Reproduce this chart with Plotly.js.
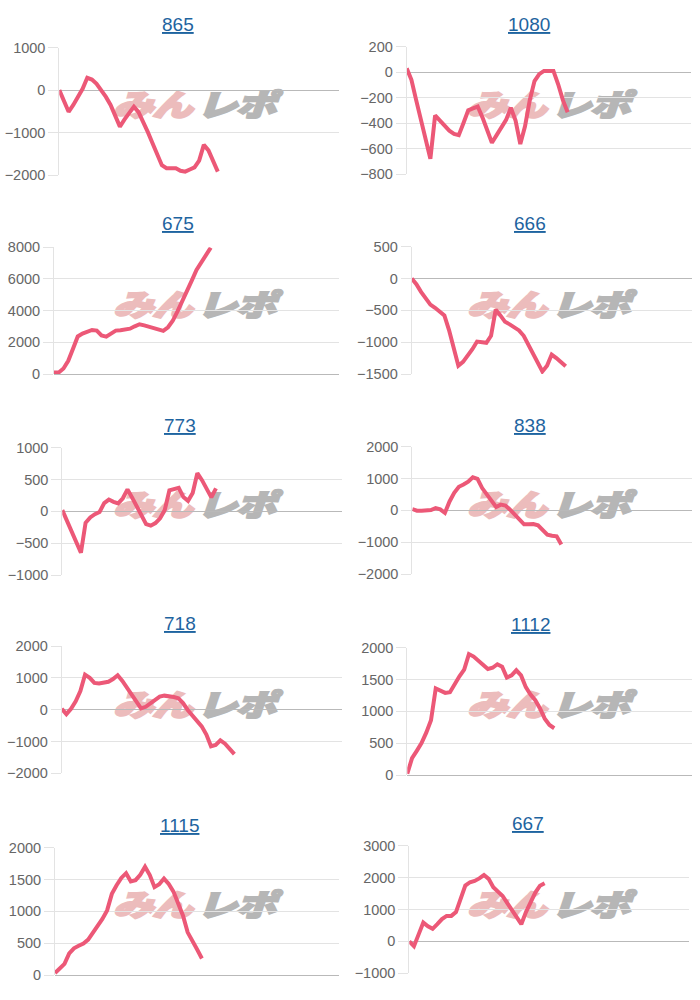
<!DOCTYPE html>
<html>
<head>
<meta charset="utf-8">
<script src="https://cdn.plot.ly/plotly-3.0.1.min.js"></script>
<style>
  html, body { margin: 0; padding: 0; background: #ffffff; }
  #wrap { position: relative; width: 700px; height: 1000px; }
  #chart { position: absolute; left: 0; top: 0; width: 700px; height: 1000px; z-index: 2; }
  .wm { position: absolute; z-index: 1; white-space: nowrap; line-height: 1;
        font-family: "Noto Sans CJK JP", sans-serif; font-weight: 900; font-style: italic;
        font-size: 30px; transform: scaleX(1.35); transform-origin: 0 0; letter-spacing: -1px; }
  .wm .a { color: #ecbcbc; -webkit-text-stroke: 2px #ecbcbc; }
  .wm .b { color: #b6b6b6; -webkit-text-stroke: 2px #b6b6b6; margin-left: 4px; }
</style>
</head>
<body>
<div id="wrap"><div id="chart"></div></div>
<script>
// ---- data ----
const titles = ["865", "1080", "675", "666", "773", "838", "718", "1112", "1115", "667"];

const s865 = [0, -240, -510, -350, -160, 30, 290, 250, 150, 10, -160, -350, -600, -860, -690, -520, -390, -520, -730, -990, -1250, -1510, -1770, -1840, -1840, -1840, -1900, -1920, -1870, -1820, -1660, -1290, -1420, -1660, -1920];
const s1080 = [30, -60, -220, -380, -530, -680, -340, -380, -415, -460, -485, -495, -400, -300, -285, -270, -355, -460, -555, -495, -435, -375, -280, -380, -565, -425, -220, -70, -15, 10, 10, 10, -95, -220, -315];
const s675 = [100, 100, 350, 830, 1600, 2370, 2550, 2660, 2780, 2740, 2430, 2360, 2560, 2740, 2760, 2780, 2860, 3010, 3140, 3070, 2970, 2870, 2780, 2720, 2950, 3360, 3960, 4560, 5220, 5900, 6570, 7070, 7580, 7980];
const s666 = [0, -90, -210, -310, -410, -460, -520, -580, -810, -1070, -1370, -1310, -1220, -1110, -990, -1000, -1010, -900, -490, -580, -680, -720, -770, -815, -900, -1040, -1180, -1300, -1460, -1370, -1195, -1250, -1310, -1380];
const s773 = [20, -140, -310, -480, -650, -180, -95, -45, -10, 130, 185, 150, 125, 205, 345, 215, 65, -50, -200, -225, -185, -110, 20, 330, 350, 370, 225, 165, 290, 600, 490, 360, 220, 360];
const s838 = [40, -10, -10, -10, 10, 70, 30, -80, 280, 550, 740, 810, 900, 1040, 990, 700, 490, 330, 105, 180, 150, 20, -125, -310, -440, -440, -430, -470, -630, -765, -800, -815, -1075];
const s718 = [30, -140, 30, 265, 585, 1100, 1000, 840, 820, 835, 875, 960, 1080, 905, 700, 495, 290, 40, 90, 195, 305, 410, 440, 430, 395, 360, 205, -10, -190, -360, -525, -785, -1150, -1110, -965, -1070, -1230, -1400];
const s1112 = [20, 265, 380, 500, 665, 860, 1360, 1330, 1290, 1300, 1435, 1550, 1655, 1900, 1860, 1790, 1715, 1665, 1685, 1740, 1700, 1530, 1565, 1645, 1565, 1380, 1265, 1175, 1045, 885, 785, 735];
const s1115 = [30, 110, 175, 340, 420, 460, 495, 555, 655, 755, 880, 1015, 1275, 1410, 1525, 1600, 1470, 1490, 1575, 1700, 1570, 1380, 1425, 1515, 1430, 1310, 1130, 935, 670, 520, 400, 260];
const s667 = [0, -150, 220, 590, 475, 395, 540, 700, 800, 800, 920, 1310, 1750, 1855, 1895, 1975, 2080, 1960, 1700, 1560, 1425, 1200, 965, 725, 540, 920, 1240, 1530, 1745, 1820];

const series = [s865, s1080, s675, s666, s773, s838, s718, s1112, s1115, s667];
const yRanges = [[-2000, 1000], [-800, 200], [0, 8000], [-1500, 500], [-1000, 1000], [-2000, 2000], [-2000, 2000], [0, 2000], [0, 2000], [-1000, 3000]];
const yTickSteps = [1000, 200, 2000, 500, 500, 1000, 1000, 500, 500, 1000];

// ---- layout geometry (pixels in the 700x1000 page) ----
const SLOTS = 60;
const W = 700, H = 1000;
const boxes = [
  [59.3, 339, 47.7, 175],
  [406.7, 690.7, 46.7, 174],
  [54, 339, 247.3, 374],
  [411.7, 691.7, 246.7, 374],
  [62.3, 341.7, 447.7, 575],
  [412.3, 691.7, 446.7, 574],
  [61.7, 341.7, 646, 773.3],
  [407.3, 691.7, 647.7, 775],
  [55, 339.3, 847.7, 975],
  [409.3, 689.3, 845.7, 973.3]
];
const titlePos = [[178, 24], [529, 24], [178, 224], [530, 224], [180, 425], [530, 425], [180, 623], [530, 624], [179, 825], [528, 823]];

const LINE = '#ec5877';
const traces = [];
const layout = {
  width: W, height: H,
  margin: {l: 0, r: 0, t: 0, b: 0},
  paper_bgcolor: 'rgba(0,0,0,0)',
  plot_bgcolor: 'rgba(0,0,0,0)',
  showlegend: false,
  font: {family: '"Liberation Sans", Arial, sans-serif', color: '#666666'},
  annotations: []
};

series.forEach((vals, k) => {
  const n = k + 1;
  const xa = 'x' + (n === 1 ? '' : n), ya = 'y' + (n === 1 ? '' : n);
  traces.push({
    type: 'scatter', mode: 'lines',
    x: vals.map((v, i) => i), y: vals,
    xaxis: xa, yaxis: ya,
    line: {color: LINE, width: 4, shape: 'linear'},
    hoverinfo: 'skip'
  });
  const b = boxes[k];
  layout['xaxis' + (n === 1 ? '' : n)] = {
    domain: [b[0] / W, b[1] / W], range: [0, SLOTS], anchor: ya,
    showgrid: false, zeroline: false, showline: false, showticklabels: false, ticks: '', fixedrange: true
  };
  layout['yaxis' + (n === 1 ? '' : n)] = {
    domain: [1 - b[3] / H, 1 - b[2] / H], range: yRanges[k], anchor: xa,
    tick0: yRanges[k][0], dtick: yTickSteps[k], tickmode: 'linear',
    ticks: 'outside', ticklen: 10, tickcolor: '#e3e3e3', tickwidth: 1,
    showgrid: true, gridcolor: '#e3e3e3', gridwidth: 1,
    zeroline: true, zerolinecolor: '#b9b9b9', zerolinewidth: 1,
    showline: true, linecolor: '#e3e3e3', linewidth: 1,
    tickfont: {family: '"Liberation Sans", Arial, sans-serif', size: 14.5, color: '#666666'},
    fixedrange: true
  };
  layout.annotations.push({
    text: '<u>' + titles[k] + '</u>',
    xref: 'paper', yref: 'paper',
    x: titlePos[k][0] / W, y: 1 - titlePos[k][1] / H,
    xanchor: 'center', yanchor: 'middle', showarrow: false,
    font: {family: '"Liberation Sans", Arial, sans-serif', size: 19, color: '#1e64a0'}
  });
});

// watermark logos (behind the transparent plot)
const wrap = document.getElementById('wrap');
for (let k = 0; k < 10; k++) {
  const col = k % 2, row = Math.floor(k / 2);
  const d = document.createElement('div');
  d.className = 'wm';
  d.style.left = (col === 0 ? 113 : 467) + 'px';
  d.style.top = (row * 200 + 88) + 'px';
  d.innerHTML = '<span class="a">みん</span><span class="b">レポ</span>';
  wrap.appendChild(d);
}

Plotly.newPlot('chart', traces, layout, {staticPlot: true, displayModeBar: false});
</script>
</body>
</html>
